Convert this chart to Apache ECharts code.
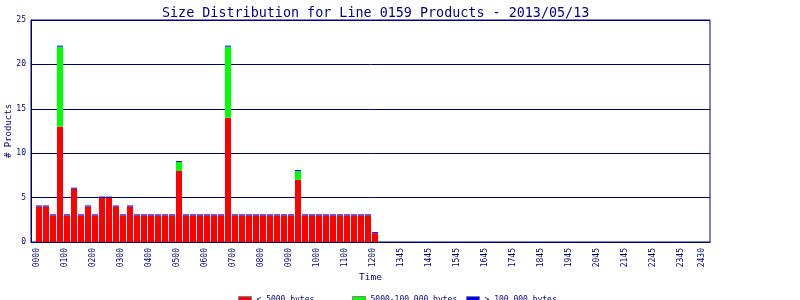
<!DOCTYPE html>
<html><head><meta charset="utf-8">
<script src="https://cdn.jsdelivr.net/npm/echarts@6/dist/echarts.min.js"></script>
<style>html,body{margin:0;padding:0;background:#fff}#c{width:800px;height:300px}</style>
</head><body><div id="c"></div>
<script>
const titleText = 'Size Distribution for Line 0159 Products - 2013/05/13';
const seriesNames = ['< 5000 bytes', '5000-100,000 bytes', '> 100,000 bytes'];
const seriesColors = ['#ff0000', '#00ff00', '#0000ff'];
const slotCount = 96;
// counts per 15-minute slot, starting at 0000
const smallCounts = [4,4,3,13,3,6,3,4,3,5,5,4,3,4,3,3,3,3,3,3,8,3,3,3,3,3,3,14,3,3,3,3,3,3,3,3,3,7,3,3,3,3,3,3,3,3,3,3,1];
const mediumCounts = [0,0,0,9,0,0,0,0,0,0,0,0,0,0,0,0,0,0,0,0,1,0,0,0,0,0,0,8,0,0,0,0,0,0,0,0,0,1,0,0,0,0,0,0,0,0,0,0,0];
const largeCounts = [0,0,0,0,0,0,0,0,0,0,0,0,0,0,0,0,0,0,0,0,0,0,0,0,0,0,0,0,0,0,0,0,0,0,0,0,0,0,0,0,0,0,0,0,0,0,0,0,0];
const tickSlots = [0,4,8,12,16,20,24,28,32,36,40,44,48,52,56,60,64,68,72,76,80,84,88,92,95];
const tickLabels = ['0000','0100','0200','0300','0400','0500','0600','0700','0800','0900','1000','1100','1200','1345','1445','1545','1645','1745','1845','1945','2045','2145','2245','2345','2430'];
const yTicks = [0,5,10,15,20,25];

const navy = '#000080';
const mono = 'DejaVu Sans Mono';
const slots = Array.from({length:slotCount}, (_,i)=>String(i));
const labelMap = {};
tickSlots.forEach((s,i)=>{ labelMap[s] = tickLabels[i]; });

function legendFor(idx, left){
  return {left:left, top:291, itemWidth:13, itemHeight:7, icon:'rect',
    itemStyle:{borderColor:'#808080', borderWidth:1},
    textStyle:{fontFamily:mono, fontSize:8, color:navy},
    data:[seriesNames[idx]]};
}
const hiddenAxis = {axisLine:{show:false}, axisTick:{show:false}, axisLabel:{show:false}, splitLine:{show:false}};

const chart = echarts.init(document.getElementById('c'), null, {renderer:'canvas'});
chart.setOption({
  animation:false,
  backgroundColor:'#ffffff',
  title:{text:titleText, left:157, top:2, textStyle:{fontFamily:mono, fontSize:13.4, fontWeight:'normal', color:navy}},
  legend:[legendFor(0,233), legendFor(1,347), legendFor(2,461)],
  grid:[
    {left:31, right:90, top:20, bottom:58, show:true, borderColor:navy, borderWidth:1, containLabel:false, outerBoundsMode:'none'},
    {left:35.5, right:92.5, top:20, bottom:58, show:false, containLabel:false, outerBoundsMode:'none'},
    {left:33.2, right:94.8, top:20, bottom:58, show:false, containLabel:false, outerBoundsMode:'none'}
  ],
  xAxis:[{
    gridIndex:0, type:'value', min:0, max:1,
    name:'Time', nameLocation:'middle', nameGap:31, nameMoveOverlap:false,
    nameTextStyle:{fontFamily:mono, fontSize:9.5, color:navy},
    axisLine:{show:true, onZero:false, lineStyle:{color:navy, width:1}},
    axisTick:{show:false}, splitLine:{show:false}, axisLabel:{show:false}
  },{
    gridIndex:1, type:'category', data:slots, boundaryGap:true, ...hiddenAxis
  },{
    gridIndex:2, type:'category', data:slots, boundaryGap:true,
    axisLine:{show:false}, axisTick:{show:false}, splitLine:{show:false},
    axisLabel:{interval:0, rotate:90, margin:6, fontFamily:mono, fontSize:8, color:navy,
      formatter:(v, i)=> labelMap[i] !== undefined ? labelMap[i] : ''}
  }],
  yAxis:[{
    gridIndex:0, type:'value', min:yTicks[0], max:yTicks[yTicks.length-1], interval:5,
    name:'# Products', nameLocation:'middle', nameRotate:90, nameGap:18, nameMoveOverlap:false,
    nameTextStyle:{fontFamily:mono, fontSize:9, color:navy},
    axisLine:{show:true, onZero:false, lineStyle:{color:navy, width:1}},
    axisTick:{show:false},
    splitLine:{show:true, lineStyle:{color:navy, width:1}},
    axisLabel:{margin:5, fontFamily:mono, fontSize:8, color:navy}
  },{
    gridIndex:1, type:'value', min:yTicks[0], max:yTicks[yTicks.length-1], interval:5, ...hiddenAxis
  },{
    gridIndex:2, type:'value', min:yTicks[0], max:yTicks[yTicks.length-1], interval:5, ...hiddenAxis
  }],
  series:[
    {name:seriesNames[0], type:'bar', xAxisIndex:1, yAxisIndex:1, stack:'s', barWidth:6, data:smallCounts, itemStyle:{color:seriesColors[0]}},
    {name:seriesNames[1], type:'bar', xAxisIndex:1, yAxisIndex:1, stack:'s', barWidth:6, data:mediumCounts, itemStyle:{color:seriesColors[1]}},
    {name:seriesNames[2], type:'bar', xAxisIndex:1, yAxisIndex:1, stack:'s', barWidth:6, barMinHeight:1, data:largeCounts, itemStyle:{color:seriesColors[2]}}
  ]
});
</script></body></html>
